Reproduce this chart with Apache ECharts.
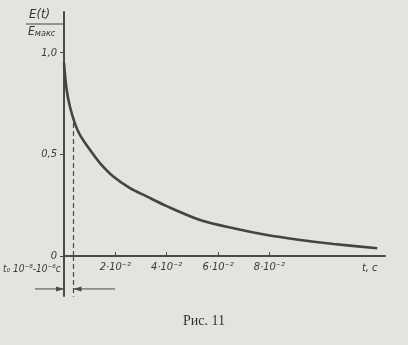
<!DOCTYPE html>
<html>
<head>
<meta charset="utf-8">
<script src="https://cdn.jsdelivr.net/npm/echarts@6/dist/echarts.min.js"></script>
<style>
html,body{margin:0;padding:0;background:#e3e3e0;}
#c{width:408px;height:345px;}
</style>
</head>
<body>
<div id="c"></div>
<script>
// time, s
const tValues = [0, 0.001, 0.0023, 0.0043, 0.0062, 0.0101, 0.014, 0.0192, 0.0257, 0.0322, 0.040, 0.053, 0.066, 0.079, 0.092, 0.105, 0.122];
// E(t)/Emax
const eValues = [0.95, 0.82, 0.735, 0.65, 0.596, 0.522, 0.457, 0.391, 0.334, 0.293, 0.245, 0.177, 0.136, 0.103, 0.079, 0.059, 0.038];
const xTickValues = [0.02, 0.04, 0.06, 0.08];
const xTickLabels = ['2·10⁻²', '4·10⁻²', '6·10⁻²', '8·10⁻²'];
const yTickValues = [0, 0.5, 1.0];
const yTickLabels = ['0', '0,5', '1,0'];
const t0 = 0.0037;            // dashed marker position
const t0Top = 0.68;
const belowLevel = -0.2;      // how far the y axis and dashed line run below zero
const arrowLevel = -0.162;
const leftArrowStart = -0.0113;
const rightArrowStart = 0.0199;

const ink = '#4a4a4a';
const font = "'Liberation Sans Narrow','DejaVu Sans Condensed','Liberation Sans',sans-serif";

const chart = echarts.init(document.getElementById('c'));
const data = tValues.map((t, i) => [t, eValues[i]]);

chart.setOption({
  backgroundColor: '#e3e3e0',
  animation: false,
  title: {
    text: 'Рис. 11', left: 'center', top: 309,
    textStyle: {fontFamily: "'Liberation Serif','DejaVu Serif',serif", fontSize: 14, fontWeight: 'normal', color: '#333'}
  },
  grid: {left: 64, right: 23, top: 12, bottom: 89},
  xAxis: {
    type: 'value', min: 0, max: 0.125,
    axisLine: {show: true, lineStyle: {color: ink, width: 2}},
    axisTick: {show: true, inside: true, length: 4, customValues: xTickValues, lineStyle: {color: ink, width: 1}},
    axisLabel: {
      customValues: xTickValues, margin: 6,
      formatter: v => { const i = xTickValues.findIndex(x => Math.abs(x - v) < 1e-9); return i >= 0 ? xTickLabels[i] : ''; },
      fontFamily: font, fontStyle: 'italic', fontSize: 11, color: '#3a3a3a'
    },
    splitLine: {show: false}
  },
  yAxis: {
    type: 'value', min: 0, max: 1.2,
    axisLine: {show: true, lineStyle: {color: ink, width: 2}},
    axisTick: {show: true, length: 4, customValues: yTickValues, lineStyle: {color: ink, width: 1}},
    axisLabel: {
      customValues: yTickValues, margin: 7,
      formatter: v => { const i = yTickValues.findIndex(x => Math.abs(x - v) < 1e-9); return i >= 0 ? yTickLabels[i] : ''; },
      fontFamily: font, fontStyle: 'italic', fontSize: 11, color: '#3a3a3a'
    },
    splitLine: {show: false}
  },
  series: [{
    type: 'line', data: data, smooth: 0.3, symbol: 'none',
    lineStyle: {color: '#444', width: 2.6},
    markLine: {
      silent: true, symbol: 'none', label: {show: false},
      lineStyle: {color: ink, type: [5, 3], width: 1.2},
      data: [[{coord: [t0, 0]}, {coord: [t0, t0Top]}]]
    }
  }]
});

const p = v => chart.convertToPixel({gridIndex: 0}, v);
const la = p([leftArrowStart, arrowLevel]), lb = p([0, arrowLevel]);
const ra = p([rightArrowStart, arrowLevel]), rb = p([t0, arrowLevel]);
const y0 = p([0, 0]), yb = p([0, belowLevel]);
const d0 = p([t0, 0]), db = p([t0, belowLevel]);
const tc = p([0.116, 0]);

function arrow(a, b) {
  const dir = Math.sign(b[0] - a[0]);
  return [
    {type: 'line', shape: {x1: a[0], y1: a[1], x2: b[0], y2: b[1]}, style: {stroke: ink, lineWidth: 1}},
    {type: 'polygon', shape: {points: [[b[0], b[1]], [b[0] - dir * 8, b[1] - 2.5], [b[0] - dir * 8, b[1] + 2.5]]}, style: {fill: ink}}
  ];
}

chart.setOption({
  graphic: [
    {type: 'line', shape: {x1: y0[0], y1: y0[1], x2: yb[0], y2: yb[1]}, style: {stroke: ink, lineWidth: 2}},
    {type: 'line', shape: {x1: d0[0], y1: d0[1], x2: db[0], y2: db[1]}, style: {stroke: ink, lineWidth: 1.2, lineDash: [5, 3]}},
    {type: 'text', left: 29, top: 8, style: {text: 'E(t)', font: "italic 13px " + font, fill: '#333'}},
    {type: 'line', shape: {x1: 26, y1: 24, x2: 63, y2: 24}, style: {stroke: '#444', lineWidth: 1.2}},
    {type: 'text', left: 28, top: 26, style: {text: '{a|E}{b|макс}', rich: {a: {font: "italic 12px " + font, fill: '#333'}, b: {font: "italic 9px " + font, fill: '#333', padding: [4, 0, 0, 0]}}}},
    {type: 'text', left: 3, top: 264, style: {text: 't₀ 10⁻⁸-10⁻⁶с', font: "italic 10px " + font, fill: '#3a3a3a'}},
    {type: 'text', x: tc[0], y: tc[1] + 7, style: {text: 't, с', font: "italic 11px " + font, fill: '#3a3a3a'}}
  ].concat(arrow(la, lb), arrow(ra, rb))
});
</script>
</body>
</html>
